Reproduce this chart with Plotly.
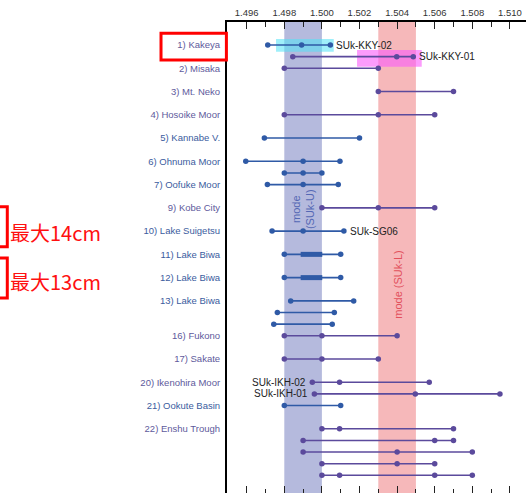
import plotly.graph_objects as go

# ---------------- data ----------------
row_slots = [0, 1, 2, 4, 6, 8, 10, 11, 12, 14, 16, 18, 20, 22, 23, 24, 25, 27, 29, 30, 31, 33, 34, 35, 36, 37]
row_values = [
    [1.49712, 1.49892, 1.50045],          # SUk-KKY-02
    [1.49845, 1.50398, 1.50486],          # SUk-KKY-01
    [1.4980, 1.5030],                     # Misaka
    [1.5030, 1.5070],                     # Mt. Neko
    [1.4980, 1.5030, 1.5060],             # Hosoike Moor
    [1.49694, 1.5020],                    # Kannabe V.
    [1.49595, 1.4990, 1.50096],           # Ohnuma Moor
    [1.4980, 1.4990, 1.5000],             # (Ohnuma / Oofuke)
    [1.4971, 1.4990, 1.50087],            # Oofuke Moor
    [1.5000, 1.5030, 1.5060],             # Kobe City
    [1.49735, 1.4990, 1.50117],           # SUk-SG06
    [1.4980, 1.5010],                     # Lake Biwa 11
    [1.4980, 1.5010],                     # Lake Biwa 12
    [1.49834, 1.50169],                   # Lake Biwa 13
    [1.49763, 1.50066],
    [1.49744, 1.50055],
    [1.4980, 1.5000, 1.5040],             # Fukono
    [1.4980, 1.5000, 1.5030],             # Sakate
    [1.49949, 1.50094, 1.50571],          # SUk-IKH-02
    [1.4996, 1.50497, 1.50947],           # SUk-IKH-01
    [1.4980, 1.5010],                     # Ookute Basin
    [1.5000, 1.50094, 1.5070],            # Enshu Trough
    [1.4990, 1.5060, 1.5070],
    [1.4990, 1.5040, 1.5080],
    [1.5000, 1.5040, 1.5060],
    [1.5000, 1.50094, 1.5060, 1.5080],
]
row_groups = ["U", "L", "L", "L", "L", "U", "U", "U", "U", "L", "U", "U", "U", "U", "U", "U",
              "L", "L", "L", "L", "U", "L", "L", "L", "L", "L"]

thick_slots = [18, 20]
thick_lo = [1.49887, 1.49887]
thick_hi = [1.50002, 1.50002]

label_slots = [0, 2, 4, 6, 8, 10, 12, 14, 16, 18, 20, 22, 25, 27, 29, 31, 33]
label_texts = ["1) Kakeya", "2) Misaka", "3) Mt. Neko", "4) Hosoike Moor", "5) Kannabe V.",
               "6) Ohnuma Moor", "7) Oofuke Moor", "9) Kobe City", "10) Lake Suigetsu",
               "11) Lake Biwa", "12) Lake Biwa", "13) Lake Biwa", "16) Fukono", "17) Sakate",
               "20) Ikenohira Moor", "21) Ookute Basin", "22) Enshu Trough"]
label_groups = ["L", "L", "L", "L", "U", "U", "U", "L", "U", "U", "U", "U", "L", "L", "L", "U", "L"]

x_ticks = [1.496, 1.498, 1.500, 1.502, 1.504, 1.506, 1.508, 1.510]
x_tick_text = ["1.496", "1.498", "1.500", "1.502", "1.504", "1.506", "1.508", "1.510"]

band_u = [1.498, 1.500]
band_l = [1.503, 1.505]

sample_names = ["SUk-KKY-02", "SUk-KKY-01", "SUk-SG06", "SUk-IKH-02", "SUk-IKH-01"]
sample_rows = [0, 1, 10, 18, 19]
sample_side = ["right", "right", "right", "left", "left"]

hl_x0 = [1.49756, 1.50187]
hl_x1 = [1.50063, 1.50531]
hl_y0 = [-0.52, 0.43]
hl_y1 = [0.58, 1.87]
hl_colors = ["rgba(80,225,245,0.55)", "rgba(250,90,250,0.6)"]

note_texts = ["最大14cm", "最大13cm"]

# ---------------- style ----------------
BLUE = "#2f5aa6"
PURPLE = "#5b4a9c"
LBL_BLUE = "#3b5c9e"
LBL_PURPLE = "#5e5a9c"
col = {"U": BLUE, "L": PURPLE}
lcol = {"U": LBL_BLUE, "L": LBL_PURPLE}

X0, X1 = 1.494952, 1.510856
Y_BOTTOM, Y_TOP = 38.52, -1.98

fig = go.Figure()

# highlight boxes (under marks)
for i in range(len(hl_x0)):
    fig.add_shape(type="rect", xref="x", yref="y", x0=hl_x0[i], x1=hl_x1[i], y0=hl_y0[i], y1=hl_y1[i],
                  fillcolor=hl_colors[i], line_width=0, layer="below")

for s, vals, g in zip(row_slots, row_values, row_groups):
    v = sorted(vals)
    fig.add_trace(go.Scatter(x=v, y=[s] * len(v), mode="lines+markers",
                             line=dict(color=col[g], width=1.6),
                             marker=dict(color=col[g], size=5.5),
                             hoverinfo="skip", showlegend=False))

for s, a, b in zip(thick_slots, thick_lo, thick_hi):
    fig.add_trace(go.Scatter(x=[a, b], y=[s, s], mode="lines",
                             line=dict(color=BLUE, width=5),
                             hoverinfo="skip", showlegend=False))

# bottom axis trace (invisible) to activate xaxis2
fig.add_trace(go.Scatter(x=[X0], y=[0], xaxis="x2", mode="markers",
                         marker=dict(opacity=0), hoverinfo="skip", showlegend=False))

# bands
fig.add_shape(type="rect", xref="x", yref="paper", x0=band_u[0], x1=band_u[1], y0=0, y1=1,
              fillcolor="#b5badd", line_width=0, layer="below")
fig.add_shape(type="rect", xref="x", yref="paper", x0=band_l[0], x1=band_l[1], y0=0, y1=1,
              fillcolor="#f6b8ba", line_width=0, layer="below")

fig.add_annotation(x=(band_u[0] + band_u[1]) / 2, y=14.1, xref="x", yref="y",
                   text="mode<br>(SUk-U)", textangle=-90, showarrow=False,
                   font=dict(size=11, color="#5468b4", family="Liberation Sans, Arial"))
fig.add_annotation(x=(band_l[0] + band_l[1]) / 2, y=20.6, xref="x", yref="y",
                   text="mode (SUk-L)", textangle=-90, showarrow=False,
                   font=dict(size=11, color="#e2505c", family="Liberation Sans, Arial"))

# sample labels
for name, r, side in zip(sample_names, sample_rows, sample_side):
    vals = sorted(row_values[r])
    if side == "right":
        fig.add_annotation(x=vals[-1], y=row_slots[r], xref="x", yref="y", text=name,
                           showarrow=False, xanchor="left", xshift=4,
                           font=dict(size=10, color="#222", family="Liberation Sans, Arial"))
    else:
        fig.add_annotation(x=vals[0], y=row_slots[r], xref="x", yref="y", text=name,
                           showarrow=False, xanchor="right", xshift=-4,
                           font=dict(size=10, color="#222", family="Liberation Sans, Arial"))

# red frame around Kakeya label
fig.add_shape(type="rect", xref="paper", yref="paper", x0=-0.2207, x1=-0.002, y0=0.9193, y1=0.976,
              line=dict(color="#ff0000", width=3))
# left red boxes (cut off)
fig.add_shape(type="rect", xref="paper", yref="paper", x0=-0.79, x1=-0.7348, y0=0.5229, y1=0.6079,
              line=dict(color="#ff0000", width=3))
fig.add_shape(type="rect", xref="paper", yref="paper", x0=-0.79, x1=-0.7348, y0=0.414, y1=0.4989,
              line=dict(color="#ff0000", width=3))
for t, yy in zip(note_texts, [0.554, 0.448]):
    fig.add_annotation(x=-0.731, y=yy, xref="paper", yref="paper", text=t, showarrow=False,
                       xanchor="left", yanchor="middle",
                       font=dict(size=20, color="#ff1010", family="Noto Sans CJK JP"))

ticktext = [f'<span style="color:{lcol[g]}">{t}</span>' for t, g in zip(label_texts, label_groups)]

fig.update_layout(
    width=526, height=493,
    margin=dict(l=227, r=0, t=22, b=0),
    plot_bgcolor="white", paper_bgcolor="white",
    font=dict(family="Liberation Sans, Arial", size=10, color="#333"),
    xaxis=dict(side="top", range=[X0, X1], tickvals=x_ticks, ticktext=x_tick_text,
               ticks="inside", ticklen=7, tickcolor="#222", tickwidth=1,
               minor=dict(dtick=0.001, tick0=1.495, ticks="inside", ticklen=5, tickcolor="#222"),
               showline=True, linecolor="black", linewidth=2, showgrid=False, zeroline=False,
               tickfont=dict(size=9.5, color="#333")),
    xaxis2=dict(side="bottom", overlaying="x", anchor="y", range=[X0, X1], tickvals=x_ticks,
                showticklabels=False, ticks="inside", ticklen=7, tickcolor="#222",
                minor=dict(dtick=0.001, tick0=1.495, ticks="inside", ticklen=4, tickcolor="#222"),
                showline=True, linecolor="black", linewidth=2, showgrid=False, zeroline=False),
    yaxis=dict(range=[Y_BOTTOM, Y_TOP], tickvals=label_slots, ticktext=ticktext,
               showline=True, linecolor="black", linewidth=2, showgrid=False, zeroline=False,
               ticks="", ticklabelstandoff=3, tickfont=dict(size=9.5)),
)

fig.write_html("out.html", config={"displayModeBar": False},
               post_script="document.body.style.margin='0';document.body.style.padding='0';")
